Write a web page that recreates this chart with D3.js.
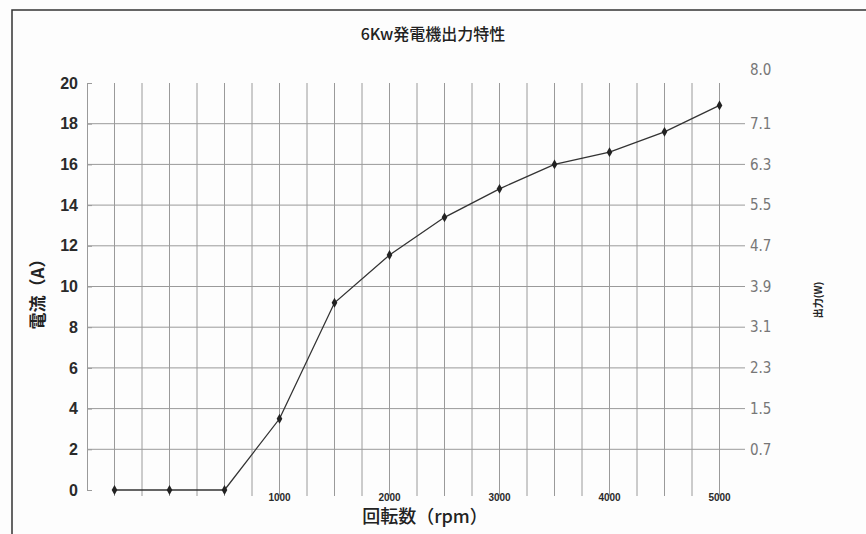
<!DOCTYPE html>
<html>
<head>
<meta charset="utf-8">
<script src="https://cdn.jsdelivr.net/npm/d3@7"></script>
<style>
  body { margin: 0; background: #fff; }
  svg { display: block; }
</style>
</head>
<body>
<div class="canvas"></div>
<script>
// data
const rpmLabels = ['', '', '', '1000', '1500', '2000', '2500', '3000', '3500', '4000', '4500', '5000']
const current = [0, 0, 0, 3.5, 9.2, 11.55, 13.4, 14.8, 16.0, 16.6, 17.6, 18.9]
const leftTicks = [0, 2, 4, 6, 8, 10, 12, 14, 16, 18, 20]
const rightLabels = ['0.7', '1.5', '2.3', '3.1', '3.9', '4.7', '5.5', '6.3', '7.1', '8.0']

const width = 866
const height = 534
const cjk = '"Noto Sans CJK JP", sans-serif'
const latin = '"Liberation Sans", Arial, sans-serif'
const narrow = '"Liberation Sans Narrow", "DejaVu Sans Condensed", sans-serif'
const gridColor = '#9a9a9a'

const margin = {left: 87, right: 119, top: 83, bottom: 44}

const svg = d3.select('.canvas')
  .append('svg')
  .attr('width', width)
  .attr('height', height)
  .attr('viewBox', `0 0 ${width} ${height}`)

svg.append('rect')
  .attr('width', width)
  .attr('height', height)
  .attr('fill', '#fdfdfd')

// scanned page frame
svg.append('path')
  .attr('d', `M12,${height} V10 H${width}`)
  .attr('fill', 'none')
  .attr('stroke', '#333')
  .attr('stroke-width', 1.5)

const x = d3.scaleBand()
  .domain(d3.range(rpmLabels.length))
  .range([margin.left, width - margin.right])

const y = d3.scaleLinear()
  .domain([0, 20])
  .range([height - margin.bottom, margin.top])

const cx = i => x(i) + x.bandwidth() / 2

// *vertical grid: every category centre and every band edge in between
const vLines = []
rpmLabels.forEach((d, i) => {
  vLines.push(cx(i))
  if (i > 0) vLines.push(x(i))
})

svg.append('g')
  .selectAll('line')
  .data(vLines)
  .enter()
  .append('line')
  .attr('x1', d => d)
  .attr('x2', d => d)
  .attr('y1', y(20))
  .attr('y2', y(0) + 6)
  .attr('stroke', gridColor)
  .attr('stroke-width', 1)

// *horizontal grid
svg.append('g')
  .selectAll('line')
  .data(leftTicks.filter(t => t > 0 && t < 20))
  .enter()
  .append('line')
  .attr('x1', margin.left)
  .attr('x2', width - margin.right - 2)
  .attr('y1', d => y(d))
  .attr('y2', d => y(d))
  .attr('stroke', gridColor)
  .attr('stroke-width', 1)

// *left axis
const leftAxis = svg.append('g')
  .attr('transform', `translate(${margin.left},0)`)
  .call(d3.axisLeft(y).tickValues(leftTicks).tickSize(-5).tickPadding(9).tickFormat(d3.format('d')))

leftAxis.select('.domain').attr('stroke', gridColor)
leftAxis.selectAll('.tick line').attr('stroke', gridColor)
leftAxis.selectAll('text')
  .attr('font-family', latin)
  .attr('font-size', 16)
  .attr('font-weight', 'bold')
  .attr('fill', '#2a2a2a')

// *right labels (hand written values in the scan)
svg.append('g')
  .selectAll('text')
  .data(rightLabels)
  .enter()
  .append('text')
  .attr('x', width - margin.right + 3)
  .attr('y', (d, i) => y(leftTicks[i + 1]) + (i === rightLabels.length - 1 ? -13 : 0))
  .attr('dy', '0.35em')
  .attr('font-family', narrow)
  .attr('font-size', 15)
  .attr('fill', '#777')
  .text(d => d)

// *x tick labels, every other category
svg.append('g')
  .selectAll('text')
  .data(rpmLabels.map((d, i) => ({d, i})).filter(o => o.i % 2 === 1 && o.d))
  .enter()
  .append('text')
  .attr('x', o => cx(o.i))
  .attr('y', y(0) + 11)
  .attr('text-anchor', 'middle')
  .attr('font-family', latin)
  .attr('font-size', 10)
  .attr('font-weight', 'bold')
  .attr('fill', '#2a2a2a')
  .text(o => o.d)

// *line + markers
const line = d3.line()
  .x((d, i) => cx(i))
  .y(d => y(d))

svg.append('path')
  .datum(current)
  .attr('d', line)
  .attr('fill', 'none')
  .attr('stroke', '#333')
  .attr('stroke-width', 1.3)

svg.append('g')
  .selectAll('path')
  .data(current)
  .enter()
  .append('path')
  .attr('d', d3.symbol().type(d3.symbolDiamond).size(28))
  .attr('transform', (d, i) => `translate(${cx(i)}, ${y(d)})`)
  .attr('fill', '#222')

// *titles
svg.append('text')
  .attr('x', 433)
  .attr('y', 40)
  .attr('text-anchor', 'middle')
  .attr('font-family', cjk)
  .attr('font-size', 16)
  .attr('font-weight', 500)
  .attr('fill', '#222')
  .text('6Kw発電機出力特性')

svg.append('text')
  .attr('x', 425)
  .attr('y', 523)
  .attr('text-anchor', 'middle')
  .attr('font-family', cjk)
  .attr('font-size', 18)
  .attr('font-weight', 500)
  .attr('fill', '#222')
  .text('回転数（rpm）')

svg.append('text')
  .attr('transform', 'translate(44, 290) rotate(-90)')
  .attr('text-anchor', 'middle')
  .attr('font-family', cjk)
  .attr('font-size', 17)
  .attr('font-weight', 'bold')
  .attr('fill', '#222')
  .text('電流（A）')

svg.append('text')
  .attr('transform', 'translate(822, 300) rotate(-90)')
  .attr('text-anchor', 'middle')
  .attr('font-family', cjk)
  .attr('font-size', 10)
  .attr('font-weight', 'bold')
  .attr('fill', '#222')
  .text('出力(W)')
</script>
</body>
</html>
